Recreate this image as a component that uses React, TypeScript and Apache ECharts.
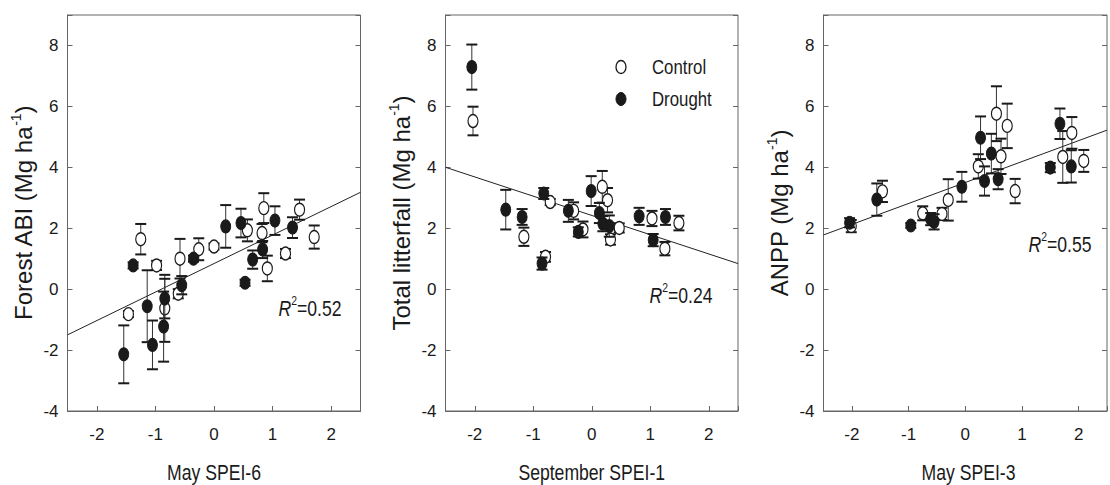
import React, { useEffect, useRef } from "react";
import * as echarts from "echarts";

// ---- data: [x, y, standard error] ----
const abiControl: number[][] = [
  [-1.46, -0.82, 0.1], [-1.25, 1.64, 0.5], [-0.98, 0.78, 0.15], [-0.84, -0.63, 1.1],
  [-0.61, -0.15, 0.15], [-0.58, 1.0, 0.65], [-0.26, 1.31, 0.36], [0.0, 1.4, 0.1],
  [0.57, 1.93, 0.36], [0.82, 1.84, 0.3], [0.85, 2.66, 0.49], [0.91, 0.68, 0.42],
  [1.22, 1.17, 0.15], [1.46, 2.61, 0.33], [1.71, 1.71, 0.38],
];
const abiDrought: number[][] = [
  [-1.54, -2.14, 0.95], [-1.38, 0.78, 0.1], [-1.14, -0.56, 1.18], [-1.05, -1.83, 0.8],
  [-0.84, -0.31, 0.65], [-0.86, -1.23, 1.15], [-0.55, 0.13, 0.3], [-0.35, 1.0, 0.1],
  [0.2, 2.06, 0.7], [0.46, 2.17, 0.47], [0.53, 0.21, 0.1], [0.66, 0.97, 0.3],
  [0.83, 1.3, 0.28], [1.04, 2.25, 0.47], [1.34, 2.02, 0.34],
];
const litterControl: number[][] = [
  [-2.03, 5.52, 0.47], [-1.16, 1.72, 0.3], [-0.79, 1.06, 0.16], [-0.71, 2.86, 0.1],
  [-0.31, 2.57, 0.28], [-0.15, 1.96, 0.26], [0.18, 3.36, 0.52], [0.27, 2.92, 0.4],
  [0.32, 1.63, 0.17], [0.47, 2.01, 0.15], [1.03, 2.32, 0.25], [1.25, 1.33, 0.22],
  [1.49, 2.17, 0.24],
];
const litterDrought: number[][] = [
  [-2.05, 7.29, 0.74], [-1.47, 2.61, 0.65], [-1.19, 2.37, 0.26], [-0.85, 0.84, 0.2],
  [-0.82, 3.14, 0.18], [-0.4, 2.57, 0.36], [-0.23, 1.88, 0.15], [-0.01, 3.22, 0.49],
  [0.13, 2.5, 0.33], [0.19, 2.15, 0.25], [0.3, 2.07, 0.35], [0.81, 2.39, 0.28],
  [1.05, 1.61, 0.2], [1.26, 2.37, 0.26],
];
const anppControl: number[][] = [
  [-2.01, 2.07, 0.2], [-1.46, 3.21, 0.35], [-0.75, 2.49, 0.23], [-0.41, 2.47, 0.2],
  [-0.3, 2.93, 0.68], [0.23, 4.03, 0.4], [0.55, 5.76, 0.9], [0.63, 4.36, 0.58],
  [0.74, 5.36, 0.73], [0.88, 3.22, 0.4], [1.72, 4.34, 0.85], [1.88, 5.13, 0.52],
  [2.09, 4.21, 0.36],
];
const anppDrought: number[][] = [
  [-2.04, 2.18, 0.15], [-1.56, 2.94, 0.53], [-0.96, 2.09, 0.08], [-0.61, 2.3, 0.2],
  [-0.55, 2.21, 0.25], [-0.06, 3.36, 0.49], [0.27, 4.97, 0.7], [0.34, 3.55, 0.48],
  [0.46, 4.45, 0.65], [0.58, 3.61, 0.33], [1.5, 3.99, 0.15], [1.67, 5.43, 0.5],
  [1.87, 4.03, 0.53],
];
// regression lines (end points)
const abiFit: number[][] = [[-2.5, -1.5], [2.5, 3.18]];
const litterFit: number[][] = [[-2.5, 4.0], [2.5, 0.84]];
const anppFit: number[][] = [[-2.5, 1.78], [2.5, 5.22]];

const xTitles = ["May SPEI-6", "September SPEI-1", "May SPEI-3"];
const yTitles = ["Forest ABI", "Total litterfall", "ANPP"];
const r2Values = ["0.52", "0.24", "0.55"];
const legendNames = ["Control", "Drought"];

const REG = "'Liberation Sans', Arial, sans-serif";
const ELLIPSE = "path://M0,-10A10,10,0,1,1,0,10A10,10,0,1,1,0,-10Z";
const AXIS = "#666";
const INK = "#1a1a1a";
const SQUEEZE = 0.8;

const panels = [
  { control: abiControl, drought: abiDrought, fit: abiFit },
  { control: litterControl, drought: litterDrought, fit: litterFit },
  { control: anppControl, drought: anppDrought, fit: anppFit },
];
const gridLeft = [67.5, 445.5, 823.5];
const gridWidth = [293, 292.5, 290];
const r2Pos = [[310, 308], [681, 295], [1060, 244]];

function errRender(params: any, api: any) {
  const x = api.value(0);
  const y = api.value(1);
  const e = api.value(2);
  const p1 = api.coord([x, y + e]);
  const p2 = api.coord([x, y - e]);
  const hw = 5.5;
  return {
    type: "group",
    children: [
      { type: "line", shape: { x1: p1[0], y1: p1[1], x2: p2[0], y2: p2[1] }, style: { stroke: "#333", lineWidth: 1 } },
      { type: "line", shape: { x1: p1[0] - hw, y1: p1[1], x2: p1[0] + hw, y2: p1[1] }, style: { stroke: INK, lineWidth: 2 } },
      { type: "line", shape: { x1: p2[0] - hw, y1: p2[1], x2: p2[0] + hw, y2: p2[1] }, style: { stroke: INK, lineWidth: 2 } },
    ],
  };
}

export default function App() {
  const ref = useRef<HTMLDivElement>(null);
  useEffect(() => {
    if (!ref.current) return;
    const chart = echarts.init(ref.current, undefined, { renderer: "svg" });
    const grid: any[] = [];
    const xAxis: any[] = [];
    const yAxis: any[] = [];
    const series: any[] = [];
    const graphic: any[] = [];
    panels.forEach((p, i) => {
      grid.push({
        left: gridLeft[i], top: 15, width: gridWidth[i], height: 396,
        show: true, borderColor: AXIS, borderWidth: 1, backgroundColor: "transparent",
      });
      xAxis.push({
        gridIndex: i, type: "value", min: -2.5, max: 2.5, splitNumber: 5, position: "bottom",
        axisLine: { show: true, onZero: false, lineStyle: { color: AXIS } },
        axisTick: { show: true, inside: true, length: 5, lineStyle: { color: AXIS } },
        axisLabel: {
          formatter: (v: number) => (Number.isInteger(v) ? String(v) : ""),
          margin: 15, fontFamily: REG, fontSize: 17, color: INK,
        },
        splitLine: { show: false },
      });
      yAxis.push({
        gridIndex: i, type: "value", min: -4, max: 9, interval: 2, position: "left",
        axisLine: { show: true, onZero: false, lineStyle: { color: AXIS } },
        axisTick: { show: true, inside: true, length: 5, lineStyle: { color: AXIS } },
        axisLabel: {
          formatter: (v: number) => (v > 8 ? "" : String(v)),
          margin: 9, fontFamily: REG, fontSize: 17, color: INK,
        },
        splitLine: { show: false },
        name: yTitles[i] + " (Mg ha{s|-1})", nameLocation: "middle", nameGap: 29,
        nameTextStyle: {
          fontFamily: REG, fontSize: 24, color: INK, lineHeight: 30,
          rich: { s: { fontFamily: REG, fontSize: 14, lineHeight: 14, verticalAlign: "top", color: INK } },
        },
      });
      // x-axis title (horizontally condensed like the original typeface)
      graphic.push({
        type: "text", x: gridLeft[i] + gridWidth[i] / 2, y: 472, scaleX: SQUEEZE, z: 10,
        style: { text: xTitles[i], fontFamily: REG, fontSize: 22, align: "center", verticalAlign: "middle", fill: INK },
      });
    });
    panels.forEach((p, i) => {
      yAxis.push({
        gridIndex: i, type: "value", min: -4, max: 9, interval: 2, position: "right",
        axisLine: { show: false, onZero: false },
        axisTick: { show: true, inside: true, length: 5, lineStyle: { color: AXIS } },
        axisLabel: { show: false }, splitLine: { show: false },
      });
    });
    panels.forEach((p, i) => {
      series.push({
        type: "line", xAxisIndex: i, yAxisIndex: i, data: p.fit, symbol: "none",
        lineStyle: { color: "#222", width: 1 }, silent: true, z: 1,
      });
      series.push({
        type: "custom", name: "Control SE", xAxisIndex: i, yAxisIndex: i, data: p.control,
        renderItem: errRender, encode: { x: 0, y: 1 }, silent: true, z: 2,
      });
      series.push({
        type: "scatter", name: legendNames[0], xAxisIndex: i, yAxisIndex: i, data: p.control,
        encode: { x: 0, y: 1 }, symbol: ELLIPSE, symbolSize: [10, 13],
        itemStyle: { color: "#fff", borderColor: INK, borderWidth: 1.3, opacity: 1 }, z: 3,
      });
      series.push({
        type: "custom", name: "Drought SE", xAxisIndex: i, yAxisIndex: i, data: p.drought,
        renderItem: errRender, encode: { x: 0, y: 1 }, silent: true, z: 4,
      });
      series.push({
        type: "scatter", name: legendNames[1], xAxisIndex: i, yAxisIndex: i, data: p.drought,
        encode: { x: 0, y: 1 }, symbol: ELLIPSE, symbolSize: [10, 13],
        itemStyle: { color: INK, borderColor: INK, borderWidth: 1, opacity: 1 }, z: 5,
      });
    });
    r2Values.forEach((r, i) => {
      graphic.push({
        type: "text", x: r2Pos[i][0], y: r2Pos[i][1], scaleX: SQUEEZE, z: 10,
        style: {
          text: "{i|R}{s|2}{n|=" + r + "}", align: "center", verticalAlign: "middle",
          rich: {
            i: { fontFamily: REG, fontSize: 22, fontStyle: "italic", lineHeight: 28, fill: INK },
            s: { fontFamily: REG, fontSize: 13, lineHeight: 13, verticalAlign: "top", fill: INK },
            n: { fontFamily: REG, fontSize: 22, lineHeight: 28, fill: INK },
          },
        },
      });
    });
    graphic.push(
      { type: "ellipse", shape: { cx: 621, cy: 67, rx: 5, ry: 6.5 }, style: { fill: "#fff", stroke: INK, lineWidth: 1.3 }, z: 10 },
      { type: "text", x: 652, y: 67, scaleX: SQUEEZE, z: 10, style: { text: legendNames[0], fontFamily: REG, fontSize: 21, verticalAlign: "middle", fill: INK } },
      { type: "ellipse", shape: { cx: 621, cy: 99, rx: 5, ry: 6.5 }, style: { fill: INK, stroke: INK, lineWidth: 1 }, z: 10 },
      { type: "text", x: 652, y: 99, scaleX: SQUEEZE, z: 10, style: { text: legendNames[1], fontFamily: REG, fontSize: 21, verticalAlign: "middle", fill: INK } },
    );
    chart.setOption({ animation: false, backgroundColor: "#fff", grid, xAxis, yAxis, series, graphic });
    return () => chart.dispose();
  }, []);
  return <div ref={ref} style={{ position: "absolute", left: 0, top: 0, width: 1110, height: 485 }} />;
}
